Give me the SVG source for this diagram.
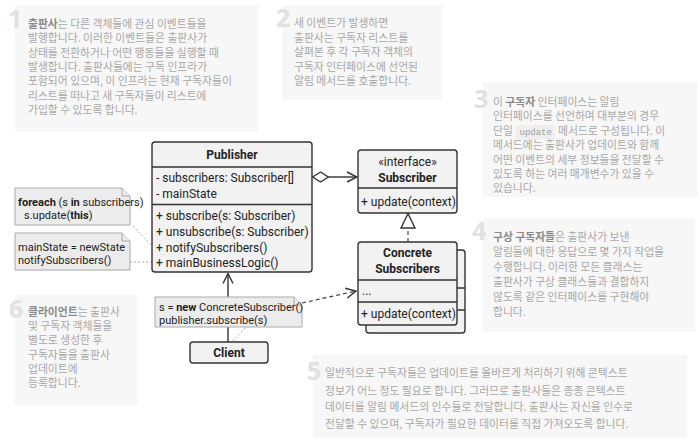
<svg xmlns="http://www.w3.org/2000/svg" width="700" height="446" viewBox="0 0 700 446">
<defs>
<style>
.bg{fill:#f7f7f7}
.num{font-family:"Open Sans","Noto Sans",sans-serif;font-weight:bold;font-size:25px;fill:#e1e1e1}
.p{font-family:"Noto Sans CJK KR",sans-serif;font-size:10.8px;fill:#a8a8a8}
.p .b{font-weight:bold;fill:#8a8a8a}
.code{font-family:"Liberation Mono",monospace;font-size:9px;fill:#a0a0a0}
.box{fill:#f2f2f2;stroke:#333;stroke-width:1.4}
.ln{stroke:#333;stroke-width:1.4;fill:none}
.u{font-family:Roboto,"Open Sans",sans-serif;font-size:12px;fill:#222}
.ub{font-weight:bold}
.note{fill:#ececec;stroke:#aaa;stroke-width:1}
.nt{font-family:Roboto,"Open Sans",sans-serif;font-size:11px;fill:#222}
.dot{stroke:#aaa;stroke-width:1;stroke-dasharray:2 2;fill:none}
.dash{stroke:#444;stroke-width:1.2;stroke-dasharray:4 3;fill:none}
</style>
<marker id="open" viewBox="0 0 12 12" refX="11" refY="6" markerWidth="12" markerHeight="12" markerUnits="userSpaceOnUse" orient="auto">
<path d="M1,1 L11,6 L1,11" fill="none" stroke="#333" stroke-width="1.4"/>
</marker>
</defs>

<g id="text1">
<rect class="bg" x="15" y="5" width="243" height="127"/>
<text class="num" x="8" y="28">1</text>
<text class="p"><tspan x="28" y="28"><tspan class="b">출판사</tspan>는 다른 객체들에 관심 이벤트들을</tspan><tspan x="28" y="42.3">발행합니다. 이러한 이벤트들은 출판사가</tspan><tspan x="28" y="56.6">상태를 전환하거나 어떤 행동들을 실행할 때</tspan><tspan x="28" y="70.9">발생합니다. 출판사들에는 구독 인프라가</tspan><tspan x="28" y="85.2">포함되어 있으며, 이 인프라는 현재 구독자들이</tspan><tspan x="28" y="99.5">리스트를 떠나고 새 구독자들이 리스트에</tspan><tspan x="28" y="113.8">가입할 수 있도록 합니다.</tspan></text>
</g>

<g id="text2">
<rect class="bg" x="282" y="5" width="160" height="95"/>
<text class="num" x="276" y="27">2</text>
<text class="p"><tspan x="294" y="27">새 이벤트가 발생하면</tspan><tspan x="294" y="41.5">출판사는 구독자 리스트를</tspan><tspan x="294" y="56">살펴본 후 각 구독자 객체의</tspan><tspan x="294" y="70.5">구독자 인터페이스에 선언된</tspan><tspan x="294" y="85">알림 메서드를 호출합니다.</tspan></text>
</g>

<g id="text3">
<rect class="bg" x="483" y="82" width="214" height="115"/>
<text class="num" x="474" y="108">3</text>
<rect x="516" y="125" width="39" height="14" rx="2" fill="#eeeeee"/>
<text class="p"><tspan x="493" y="106">이 <tspan class="b">구독자</tspan> 인터페이스는 알림</tspan><tspan x="493" y="120.4">인터페이스를 선언하며 대부분의 경우</tspan><tspan x="493" y="134.8">단일</tspan><tspan x="558" y="134.8">메서드로 구성됩니다. 이</tspan><tspan x="493" y="149.2">메서드에는 출판사가 업데이트와 함께</tspan><tspan x="493" y="163.6">어떤 이벤트의 세부 정보들을 전달할 수</tspan><tspan x="493" y="178">있도록 하는 여러 매개변수가 있을 수</tspan><tspan x="493" y="192.4">있습니다.</tspan></text>
<text class="code" x="519.5" y="134.8">update</text>
</g>

<g id="text4">
<rect class="bg" x="483" y="218" width="212" height="114"/>
<text class="num" x="472" y="240">4</text>
<text class="p"><tspan x="493" y="241"><tspan class="b">구상 구독자들</tspan>은 출판사가 보낸</tspan><tspan x="493" y="256">알림들에 대한 응답으로 몇 가지 작업을</tspan><tspan x="493" y="271">수행합니다. 이러한 모든 클래스는</tspan><tspan x="493" y="286">출판사가 구상 클래스들과 결합하지</tspan><tspan x="493" y="301">않도록 같은 인터페이스를 구현해야</tspan><tspan x="493" y="316">합니다.</tspan></text>
</g>

<g id="text5">
<rect class="bg" x="313" y="355" width="374" height="83"/>
<text class="num" x="307" y="380">5</text>
<text class="p"><tspan x="325" y="377">일반적으로 구독자들은 업데이트를 올바르게 처리하기 위해 콘텍스트</tspan><tspan x="325" y="394.5">정보가 어느 정도 필요로 합니다. 그러므로 출판사들은 종종 콘텍스트</tspan><tspan x="325" y="411">데이터를 알림 메서드의 인수들로 전달합니다. 출판사는 자신을 인수로</tspan><tspan x="325" y="428">전달할 수 있으며, 구독자가 필요한 데이터를 직접 가져오도록 합니다.</tspan></text>
</g>

<g id="text6">
<rect class="bg" x="15" y="295" width="122" height="110"/>
<text class="num" x="9" y="318">6</text>
<text class="p"><tspan x="28" y="316"><tspan class="b">클라이언트</tspan>는 출판사</tspan><tspan x="28" y="330.2">및 구독자 객체들을</tspan><tspan x="28" y="344.4">별도로 생성한 후</tspan><tspan x="28" y="358.6">구독자들을 출판사</tspan><tspan x="28" y="372.8">업데이트에</tspan><tspan x="28" y="387">등록합니다.</tspan></text>
</g>

<g id="connectors">
<path class="dot" d="M133,226 L152,246"/>
<path class="dot" d="M130,262 L152,262"/>
<path class="dot" d="M245,328 L233,341"/>
<path class="ln" d="M228,342 L228,273.5" marker-end="url(#open)"/>
<path class="dash" d="M302,303 L356,291" marker-end="url(#open)"/>
<path d="M312.7,177 L320.5,172 L328.3,177 L320.5,182 Z" fill="#fff" stroke="#333" stroke-width="1.4"/>
<path class="ln" d="M328.3,177 L357,177" marker-end="url(#open)"/>
<path class="dash" d="M408,242 L408,228"/>
<path d="M408,213.5 L415,228 L401,228 Z" fill="#fff" stroke="#333" stroke-width="1.4"/>
</g>

<g id="publisher">
<rect class="box" x="152" y="142" width="160" height="130" rx="3"/>
<path class="ln" d="M152,167 H312 M152,204.5 H312"/>
<text class="u ub" x="232" y="159" text-anchor="middle">Publisher</text>
<text class="u" x="156" y="182">- subscribers: Subscriber[]</text>
<text class="u" x="156" y="198">- mainState</text>
<text class="u" x="156" y="220">+ subscribe(s: Subscriber)</text>
<text class="u" x="156" y="236">+ unsubscribe(s: Subscriber)</text>
<text class="u" x="156" y="252">+ notifySubscribers()</text>
<text class="u" x="156" y="267">+ mainBusinessLogic()</text>
</g>

<g id="subscriber">
<rect class="box" x="358" y="150" width="99" height="63" rx="3"/>
<path class="ln" d="M358,188 H457"/>
<text class="u" x="407.5" y="166" text-anchor="middle">«interface»</text>
<text class="u ub" x="407.5" y="182" text-anchor="middle">Subscriber</text>
<text class="u" x="361" y="206">+ update(context)</text>
</g>

<g id="concrete-subscribers">
<rect class="box" x="366" y="250" width="99" height="83" rx="3"/>
<path class="ln" d="M457,288 H465 M457,310 H465"/>
<rect class="box" x="358" y="242" width="99" height="83" rx="3"/>
<path class="ln" d="M358,280 H457 M358,302 H457"/>
<text class="u ub" x="407.5" y="257" text-anchor="middle">Concrete</text>
<text class="u ub" x="407.5" y="273" text-anchor="middle">Subscribers</text>
<text class="u" x="362" y="295">...</text>
<text class="u" x="361" y="318">+ update(context)</text>
</g>

<g id="client">
<rect class="box" x="190" y="342" width="78" height="21" rx="3"/>
<text class="u ub" x="229" y="357" text-anchor="middle">Client</text>
</g>

<g id="note-notify">
<path class="note" d="M15,188 H122 L130,196 V225 H15 Z"/>
<path class="note" d="M122,188 V196 H130"/>
<text class="nt"><tspan x="18" y="206"><tspan font-weight="bold">foreach</tspan> (s <tspan font-weight="bold">in</tspan> subscribers)</tspan><tspan x="24" y="219">s.update(<tspan font-weight="bold">this</tspan>)</tspan></text>
</g>

<g id="note-logic">
<path class="note" d="M15,233 H122 L130,241 V270 H15 Z"/>
<path class="note" d="M122,233 V241 H130"/>
<text class="nt"><tspan x="18" y="251">mainState = newState</tspan><tspan x="18" y="264">notifySubscribers()</tspan></text>
</g>

<g id="note-client">
<path class="note" d="M155,297 H294 L302,305 V327 H155 Z"/>
<path class="note" d="M294,297 V305 H302"/>
<text class="nt"><tspan x="159" y="311">s = <tspan font-weight="bold">new</tspan> ConcreteSubscriber()</tspan><tspan x="159" y="324">publisher.subscribe(s)</tspan></text>
</g>
</svg>
